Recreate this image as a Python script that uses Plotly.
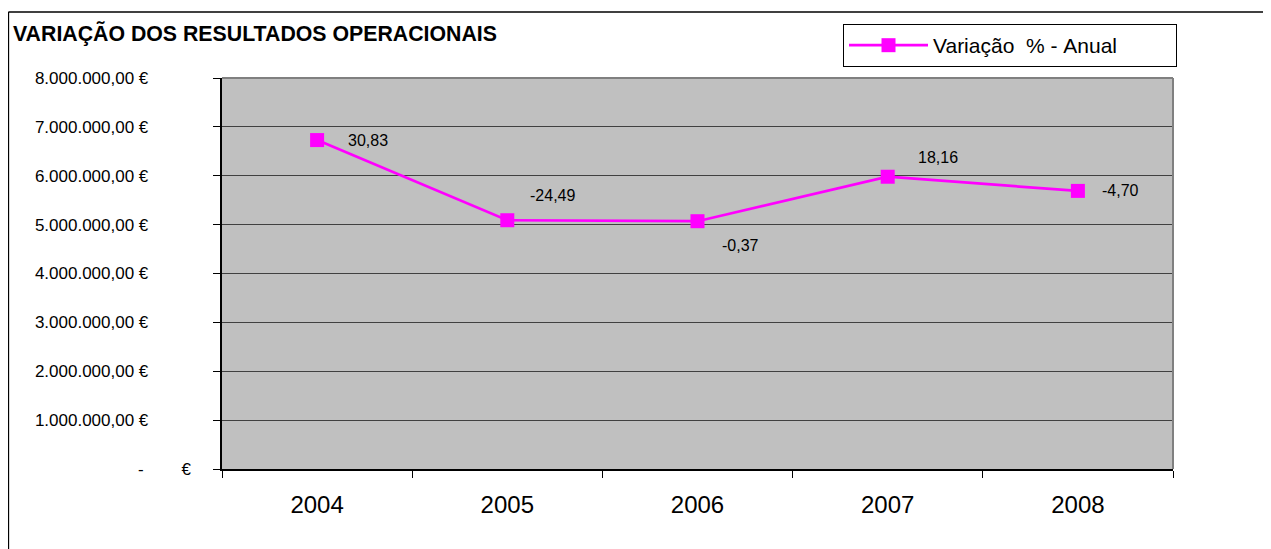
import plotly.graph_objects as go

anos = ["2004", "2005", "2006", "2007", "2008"]
resultados = [6730000, 5090000, 5070000, 5980000, 5690000]
variacao_pct = ["30,83", "-24,49", "-0,37", "18,16", "-4,70"]
ytick_vals = [0, 1000000, 2000000, 3000000, 4000000, 5000000, 6000000, 7000000, 8000000]
ytick_text = ["-        €",
              "1.000.000,00 €", "2.000.000,00 €", "3.000.000,00 €", "4.000.000,00 €",
              "5.000.000,00 €", "6.000.000,00 €", "7.000.000,00 €", "8.000.000,00 €"]
label_shifts = [(29, 0), (21, 25), (22, -24), (28, 19), (22, 0)]

FONT = "Liberation Sans, Arial, sans-serif"
NB = "\u00a0"

def fmt_tick(t):
    # accounting-style alignment: zero label extends further right
    if t.startswith("-"):
        return t.replace(" ", NB)
    return t.replace(" ", NB) + NB * 9

fig = go.Figure()
fig.add_trace(go.Scatter(
    x=anos, y=resultados, mode="markers",
    marker=dict(symbol="diamond", size=8, color="#000080"),
    showlegend=False, hoverinfo="skip"))
fig.add_trace(go.Scatter(
    x=anos, y=resultados, mode="lines+markers",
    name="Variação\u00a0\u00a0%\u00a0-\u00a0Anual",
    line=dict(color="#FF00FF", width=2.7),
    marker=dict(symbol="square", size=14, color="#FF00FF")))

for i, (v, t, (dx, dy)) in enumerate(zip(resultados, variacao_pct, label_shifts)):
    fig.add_annotation(x=i, y=v, text=t, showarrow=False, xanchor="left",
                       yanchor="middle", xshift=dx, yshift=dy,
                       font=dict(family=FONT, size=16, color="black"))

fig.add_annotation(xref="paper", yref="paper", x=-0.222, y=1.114,
                   text="<b>VARIAÇÃO DOS RESULTADOS OPERACIONAIS</b>",
                   showarrow=False, xanchor="left", yanchor="middle",
                   font=dict(family=FONT, size=21.3, color="black"))

# outer chart frame
fig.add_shape(type="line", xref="paper", yref="paper", x0=-0.2246, x1=-0.2246,
              y0=-0.3, y1=1.1688, line=dict(color="black", width=1.5))
fig.add_shape(type="line", xref="paper", yref="paper", x0=-0.2246, x1=1.2,
              y0=1.1688, y1=1.1688, line=dict(color="black", width=1.5))
# plot area border (top/right grey)
fig.add_shape(type="line", xref="paper", yref="paper", x0=0, x1=1, y0=1, y1=1,
              line=dict(color="#808080", width=2))
fig.add_shape(type="line", xref="paper", yref="paper", x0=1, x1=1, y0=0, y1=1,
              line=dict(color="#808080", width=2))

fig.update_layout(
    width=1263, height=541,
    margin=dict(l=214, r=98, t=70, b=80),
    paper_bgcolor="white", plot_bgcolor="#C0C0C0",
    font=dict(family=FONT, color="black"),
    showlegend=True,
    legend=dict(x=0.653, y=1.138, xanchor="left", yanchor="top",
                orientation="h", entrywidth=238,
                bordercolor="black", borderwidth=1, bgcolor="white",
                font=dict(family=FONT, size=21), itemwidth=79),
    xaxis=dict(type="category", range=[-0.5, 4.5], showgrid=False,
               ticks="outside", tickson="boundaries", ticklen=7, tickcolor="black",
               showline=True, linecolor="black", linewidth=1.5,
               tickfont=dict(family=FONT, size=24), zeroline=False,
               ticklabelstandoff=13),
    yaxis=dict(range=[0, 8000000], tickvals=ytick_vals,
               ticktext=[fmt_tick(t) for t in ytick_text],
               showgrid=True, gridcolor="#404040", gridwidth=1,
               ticks="outside", ticklen=7, tickcolor="black",
               showline=True, linecolor="black", linewidth=1.5,
               tickfont=dict(family=FONT, size=17), zeroline=False,
               ticklabelstandoff=19),
)

fig.write_html("out.html")
